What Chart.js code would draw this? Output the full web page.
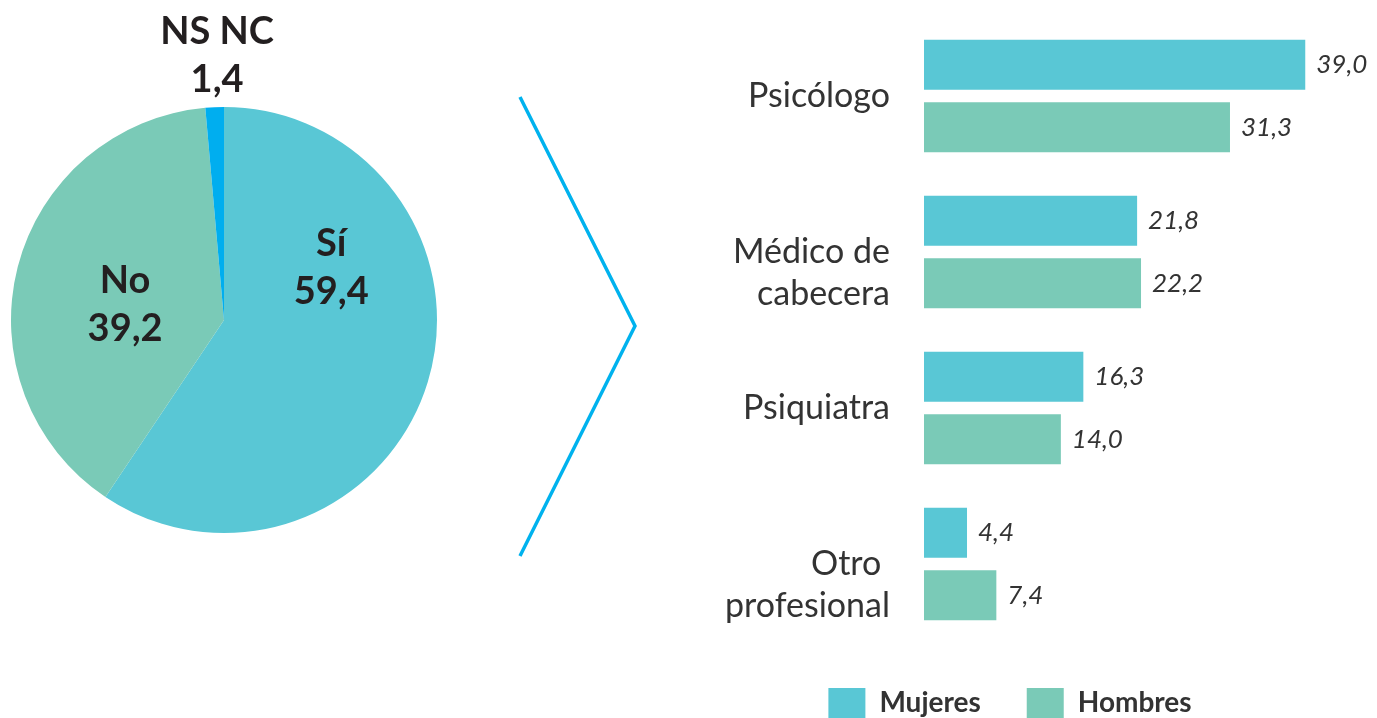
<!DOCTYPE html>
<html>
<head>
<meta charset="utf-8">
<script src="https://cdn.jsdelivr.net/npm/chart.js@4"></script>
<style>
  html, body { margin: 0; padding: 0; background: #fff; overflow: hidden; }
  body { width: 1377px; height: 718px; position: relative; }
  #pie { position: absolute; left: 0; top: 0; }
  #barras { position: absolute; left: 660px; top: 0; }
</style>
</head>
<body>
<canvas id="pie" width="660" height="640"></canvas>
<canvas id="barras" width="717" height="728"></canvas>
<script>
// datos de la tarta
const respuestas = ['Sí', 'No', 'NS NC'];
const porcentajes = [59.4, 39.2, 1.4];

// datos de las barras
const profesionales = ['Psicólogo', ['Médico de', 'cabecera'], 'Psiquiatra', ['Otro ', 'profesional']];
const mujeres = [39.0, 21.8, 16.3, 4.4];
const hombres = [31.3, 22.2, 14.0, 7.4];

const azul = '#59C7D5';
const verde = '#7ACAB7';
const azulFuerte = '#00AEEF';
const fuente = 'Lato, "Open Sans", sans-serif';
const coma = v => v.toFixed(1).replace('.', ',');

// donde va cada etiqueta de la tarta (angulo desde arriba, fraccion del radio)
const posEtiquetas = [{ang: 64, r: 0.56}, {ang: 279, r: 0.47}, {ang: 358.5, r: 1.24}];

const etiquetasTarta = {
  id: 'etiquetasTarta',
  afterDraw(chart) {
    const c = chart.ctx;
    const arcs = chart.getDatasetMeta(0).data;
    c.save();
    c.fillStyle = '#231F20';
    c.font = 'bold 38px ' + fuente;
    c.textAlign = 'center';
    c.textBaseline = 'middle';
    arcs.forEach((arc, i) => {
      const p = posEtiquetas[i];
      const a = (p.ang - 90) * Math.PI / 180;
      const x = arc.x + Math.cos(a) * arc.outerRadius * p.r;
      const y = arc.y + Math.sin(a) * arc.outerRadius * p.r;
      c.fillText(respuestas[i], x, y - 24);
      c.fillText(coma(porcentajes[i]), x, y + 24);
    });
    // flecha que une las dos graficas
    c.strokeStyle = '#00B2EE';
    c.lineWidth = 3.5;
    c.beginPath();
    c.moveTo(520, 97);
    c.lineTo(635, 326);
    c.lineTo(520, 556);
    c.stroke();
    c.restore();
  }
};

new Chart(document.getElementById('pie').getContext('2d'), {
  type: 'pie',
  data: {
    labels: respuestas,
    datasets: [{
      data: porcentajes,
      backgroundColor: [azul, verde, azulFuerte],
      borderWidth: 0
    }]
  },
  options: {
    responsive: false,
    animation: false,
    layout: { padding: { left: 11, right: 223, top: 11, bottom: 11 } },
    plugins: { legend: { display: false }, tooltip: { enabled: false } }
  },
  plugins: [etiquetasTarta]
});

const valoresBarras = {
  id: 'valoresBarras',
  afterDatasetsDraw(chart) {
    const c = chart.ctx;
    c.save();
    c.fillStyle = '#333';
    c.font = 'italic 26px ' + fuente;
    c.textBaseline = 'middle';
    chart.data.datasets.forEach((ds, d) => {
      chart.getDatasetMeta(d).data.forEach((bar, i) => {
        c.fillText(coma(ds.data[i]), bar.x + 11, bar.y);
      });
    });
    c.restore();
  }
};

new Chart(document.getElementById('barras').getContext('2d'), {
  type: 'bar',
  data: {
    labels: profesionales,
    datasets: [
      { label: 'Mujeres', data: mujeres, backgroundColor: azul },
      { label: 'Hombres', data: hombres, backgroundColor: verde }
    ]
  },
  options: {
    indexAxis: 'y',
    responsive: false,
    animation: false,
    categoryPercentage: 0.8,
    barPercentage: 0.8,
    layout: { padding: { left: 0, right: 17, top: 18, bottom: 0 } },
    scales: {
      x: { min: 0, max: 44.6, display: false },
      y: {
        grid: { display: false, drawTicks: false },
        border: { display: false },
        ticks: {
          color: '#333',
          font: { family: fuente, size: 34, lineHeight: 1.25 },
          padding: 34,
          // las etiquetas de dos lineas van un poco mas abajo
          callback(value) {
            const l = this.getLabelForValue(value);
            return Array.isArray(l) ? [''].concat(l) : l;
          }
        },
        afterFit(scale) {
          scale.width = 264;
          scale.paddingTop = 0;
          scale.paddingBottom = 0;
        }
      }
    },
    plugins: {
      tooltip: { enabled: false },
      legend: {
        position: 'bottom',
        labels: {
          boxWidth: 37,
          boxHeight: 30,
          padding: 46,
          color: '#333',
          font: { family: fuente, size: 28, weight: 'bold' }
        }
      }
    }
  },
  plugins: [valoresBarras]
});
</script>
</body>
</html>
